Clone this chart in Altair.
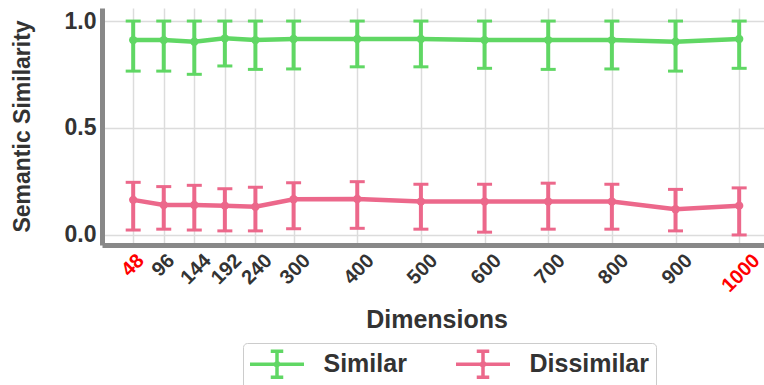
import altair as alt
import pandas as pd

# ---- data ----
dims = [48, 96, 144, 192, 240, 300, 400, 500, 600, 700, 800, 900, 1000]

similar_mean = [0.911, 0.911, 0.903, 0.919, 0.911, 0.916, 0.916, 0.916, 0.911, 0.911, 0.911, 0.903, 0.916]
similar_low = [0.766, 0.766, 0.751, 0.790, 0.774, 0.776, 0.786, 0.786, 0.779, 0.774, 0.776, 0.766, 0.779]
similar_high = [1.0, 1.0, 1.0, 1.0, 1.0, 1.0, 1.0, 1.0, 1.0, 1.0, 1.0, 1.0, 1.0]

dissimilar_mean = [0.164, 0.140, 0.140, 0.137, 0.132, 0.167, 0.168, 0.156, 0.156, 0.156, 0.156, 0.120, 0.137]
dissimilar_low = [0.023, 0.027, 0.023, 0.019, 0.019, 0.029, 0.031, 0.027, 0.013, 0.027, 0.027, 0.019, 0.000]
dissimilar_high = [0.246, 0.226, 0.232, 0.216, 0.223, 0.244, 0.249, 0.237, 0.237, 0.242, 0.237, 0.213, 0.220]

series_names = ["Similar", "Dissimilar"]
series_colors = ["#60d764", "#ec688b"]
y_ticks = [0.0, 0.5, 1.0]
highlight_dims = [48, 1000]

FONT = "Liberation Sans"
TEXT = "#333333"

rows = []
for name, m, lo, hi in [
    ("Similar", similar_mean, similar_low, similar_high),
    ("Dissimilar", dissimilar_mean, dissimilar_low, dissimilar_high),
]:
    for d, a, b, c in zip(dims, m, lo, hi):
        rows.append({"dim": d, "series": name, "mean": a, "low": b, "high": c})
df = pd.DataFrame(rows)

hl_test = " || ".join(f"datum.value == {v}" for v in highlight_dims)

x_axis = alt.Axis(
    values=dims, format="d", title="Dimensions",
    labelAngle=-45, labelAlign="right", labelBaseline="top",
    labelFont=FONT, labelFontSize=20, labelFontWeight="bold",
    labelColor={"condition": {"test": hl_test, "value": "#ff0000"}, "value": TEXT},
    labelOffset={"condition": [{"test": "datum.value >= 1000", "value": 10},
                               {"test": "datum.value >= 100", "value": 6}], "value": 0},
    labelPadding=5, labelOverlap=False, labelFlush=False, labelBound=False,
    ticks=False, tickSize=0,
    domainColor="#888888", domainWidth=5,
    gridColor="#dcdcdc", gridWidth=1.5,
    titleFont=FONT, titleFontSize=25, titleFontWeight="bold", titleColor=TEXT,
    titleX=334.5, titleY=74, titleAlign="center", titleBaseline="middle",
)

y_axis = alt.Axis(
    values=y_ticks, format=".1f", title="Semantic Similarity",
    labelFont=FONT, labelFontSize=23, labelFontWeight="bold", labelColor=TEXT,
    labelPadding=6, ticks=False, tickSize=0,
    domainColor="#888888", domainWidth=5,
    gridColor="#dcdcdc", gridWidth=1.5,
    titleFont=FONT, titleFontSize=23, titleFontWeight="bold", titleColor=TEXT,
    titleAngle=-90, titleX=-80, titleY=118, titleAlign="center", titleBaseline="middle",
)

xscale = alt.Scale(domain=[-1, 1039], nice=False, zero=False)
yscale = alt.Scale(domain=[-0.047, 1.061], nice=False, zero=False)

# legend glyph: line with an error bar, drawn to the right of the symbol anchor
legend_path = ("M-1.12,0H3.2M1.04,-1.04V1.04M0.54,-1.04H1.54M0.54,1.04H1.54"
               "M1.16,0A0.12,0.12 0 1,1 0.92,0A0.12,0.12 0 1,1 1.16,0")
legend = alt.Legend(
    title=None, orient="none", legendX=141, legendY=335, direction="horizontal",
    symbolType=legend_path, symbolSize=625, symbolStrokeWidth=3.5,
    symbolFillColor="transparent",
    labelFont=FONT, labelFontSize=25, labelFontWeight="bold", labelColor=TEXT,
    labelOffset=45, columnPadding=41, padding=6.5,
    strokeColor="#cccccc", cornerRadius=4, fillColor="white",
)
color = alt.Color("series:N", scale=alt.Scale(domain=series_names, range=series_colors),
                  sort=series_names, legend=legend)

X = alt.X("dim:Q", scale=xscale, axis=x_axis)

base = alt.Chart(df)
rules = base.mark_rule(strokeWidth=4).encode(
    x=X, y=alt.Y("low:Q", scale=yscale, axis=y_axis), y2="high:Q", color=color)
tick_lo = base.mark_tick(orient="horizontal", size=15, thickness=3, opacity=1).encode(
    x=X, y=alt.Y("low:Q", scale=yscale, axis=y_axis), color=color)
tick_hi = base.mark_tick(orient="horizontal", size=15, thickness=3, opacity=1).encode(
    x=X, y=alt.Y("high:Q", scale=yscale, axis=y_axis), color=color)
line = base.mark_line(strokeWidth=4.5).encode(
    x=X, y=alt.Y("mean:Q", scale=yscale, axis=y_axis), color=color)
points = base.mark_circle(size=70, opacity=1).encode(
    x=X, y=alt.Y("mean:Q", scale=yscale, axis=y_axis), color=color)

chart = alt.layer(rules, tick_lo, tick_hi, line, points).properties(
    width=662, height=237,
    autosize=alt.AutoSizeParams(type="none"),
    padding={"left": 102, "top": 8, "right": 0, "bottom": 140},
    background="white",
).configure_view(stroke=None)

chart.save("out.html", embed_options={"renderer": "svg", "actions": False})
